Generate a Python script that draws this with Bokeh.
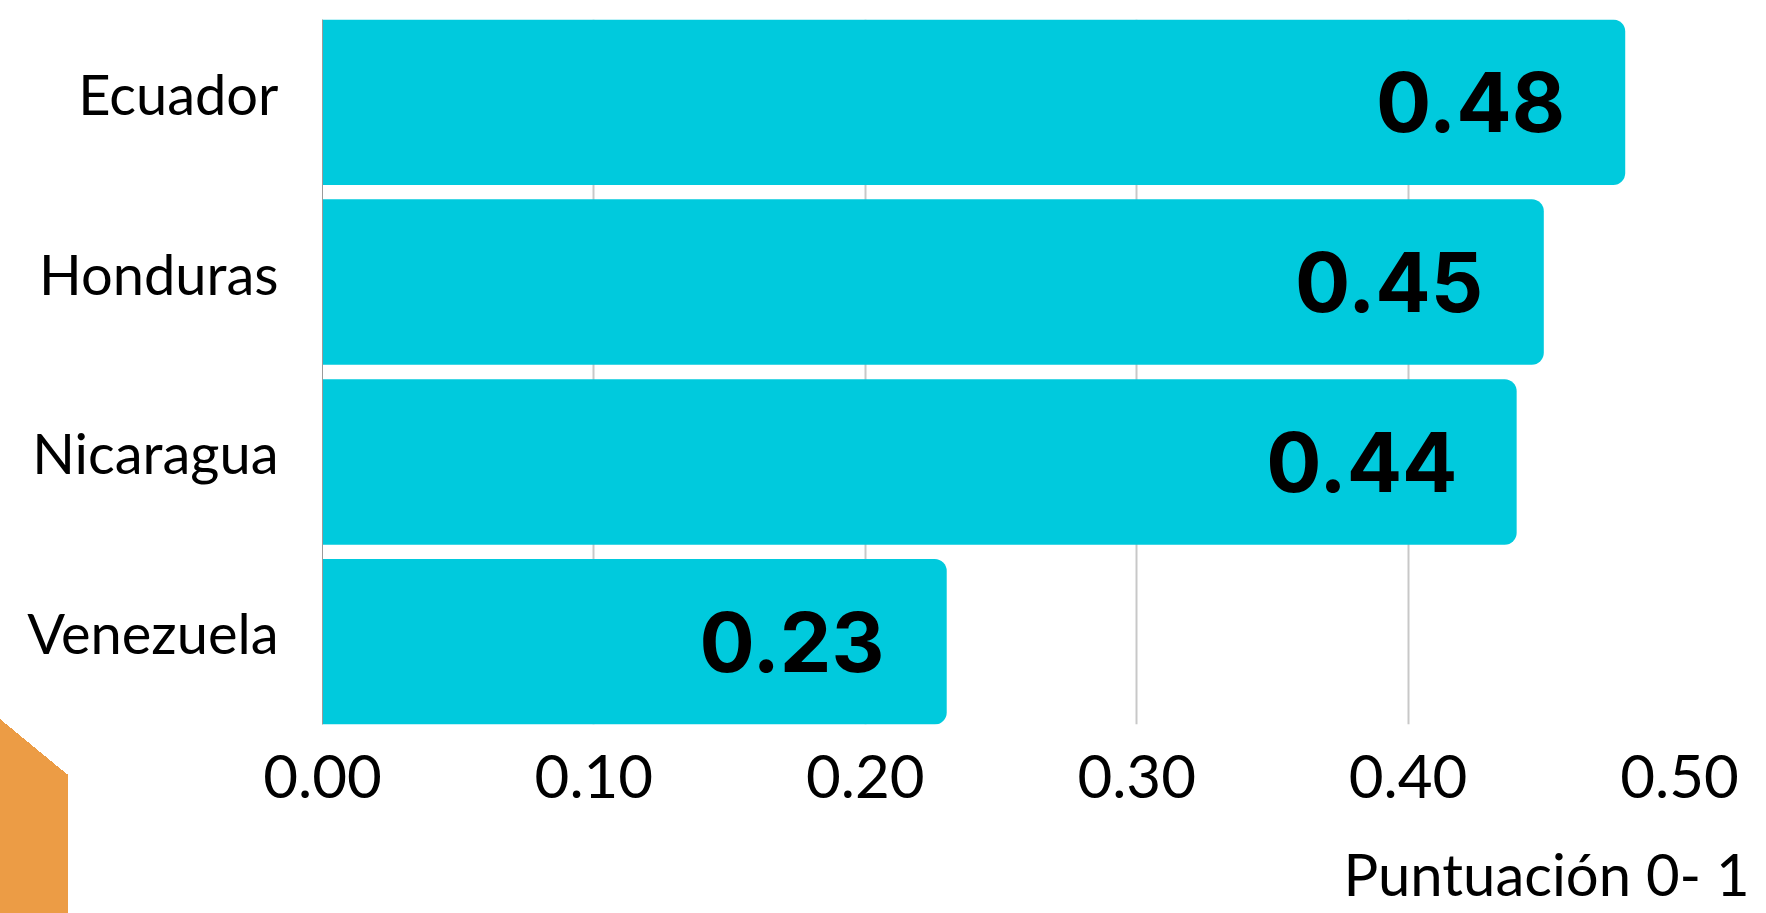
from bokeh.plotting import figure
from bokeh.models import (ColumnDataSource, Range1d, FixedTicker, LinearAxis,
                          InlineStyleSheet)
from bokeh.core.properties import value
from bokeh.embed import file_html
from bokeh.resources import INLINE

# ---- data ----
countries = ["Ecuador", "Honduras", "Nicaragua", "Venezuela"]
scores = [0.48, 0.45, 0.44, 0.23]
score_labels = ["0.48", "0.45", "0.44", "0.23"]
x_ticks = [0.0, 0.1, 0.2, 0.3, 0.4, 0.5]
x_tick_labels = ["0.00", "0.10", "0.20", "0.30", "0.40", "0.50"]
axis_title = "Puntuación 0- 1"
axis_title_at = 0.451  # x position (score units) where the axis title is centred

BAR = "#00CADD"
ORANGE = "#EC9C45"

W, H = 1766, 913
ML, MT = 322, 19
FW, FH = 1357, 705
MR = W - ML - FW
MB = H - MT - FH

n = len(countries)
ypos = [n - 1 - i for i in range(n)]
bar_h = 0.92
y0, y1 = -bar_h / 2, (n - 1) + bar_h / 2
lab_shift = 0.05  # category label sits slightly above bar centre
ytick = [y + lab_shift for y in ypos]

src = ColumnDataSource(dict(
    y=ypos, v=scores, lab=score_labels,
    lx=[s - 0.057 for s in scores],
))

p = figure(width=W, height=H, output_backend="svg", toolbar_location=None,
           x_range=Range1d(0, 0.5), y_range=Range1d(y0, y1),
           min_border_left=ML, min_border_right=MR, min_border_top=MT,
           min_border_bottom=MB)
p.outline_line_color = None
p.background_fill_color = "white"
p.border_fill_color = None

# decorative orange corner shape behind the transparent canvas border
p.stylesheets = [InlineStyleSheet(css=f"""
:host {{
  background-color: white;
  background-image: linear-gradient(to top right, {ORANGE} 50%, transparent 50%),
                    linear-gradient({ORANGE}, {ORANGE});
  background-size: 68px 56px, 68px 141px;
  background-position: 0px 719px, 0px 774px;
  background-repeat: no-repeat;
}}
""")]

p.ygrid.visible = False
p.xgrid.ticker = FixedTicker(ticks=x_ticks[1:])
p.xgrid.grid_line_color = "#C8C8C8"
p.xgrid.grid_line_width = 2

p.hbar(y="y", right="v", left=0, height=bar_h, source=src,
       fill_color=BAR, line_color=None, border_radius=(0, 12, 12, 0))

p.text(x="lx", y="y", text="lab", source=src, text_align="center",
       text_baseline="middle", text_font=value("Inter"),
       text_font_style="bold", text_font_size="82px", text_color="black")

# x axis (tick labels)
xa = p.xaxis[0]
xa.ticker = FixedTicker(ticks=x_ticks)
xa.major_label_overrides = {t: l for t, l in zip(x_ticks, x_tick_labels)}
xa.axis_line_color = None
xa.major_tick_line_color = None
xa.minor_tick_line_color = None
xa.major_tick_out = 0
xa.major_label_standoff = 30
xa.major_label_text_font = "Lato"
xa.major_label_text_font_size = "60px"
xa.major_label_text_color = "black"

# second x axis carrying the axis title, right side
xt = LinearAxis(ticker=FixedTicker(ticks=[axis_title_at]),
                major_label_overrides={axis_title_at: axis_title})
xt.axis_line_color = None
xt.major_tick_line_color = None
xt.minor_tick_line_color = None
xt.major_tick_out = 0
xt.major_label_standoff = 38
xt.major_label_text_font = "Lato"
xt.major_label_text_font_size = "58px"
xt.major_label_text_color = "black"
p.add_layout(xt, "below")

# y axis
ya = p.yaxis[0]
ya.ticker = FixedTicker(ticks=ytick)
ya.major_label_overrides = {t: c for t, c in zip(ytick, countries)}
ya.axis_line_color = "#9A9A9A"
ya.major_tick_line_color = None
ya.minor_tick_line_color = None
ya.major_tick_out = 0
ya.major_label_standoff = 44
ya.major_label_text_font = "Lato"
ya.major_label_text_font_size = "56px"
ya.major_label_text_color = "black"

open("out.html", "w").write(file_html(p, INLINE))
